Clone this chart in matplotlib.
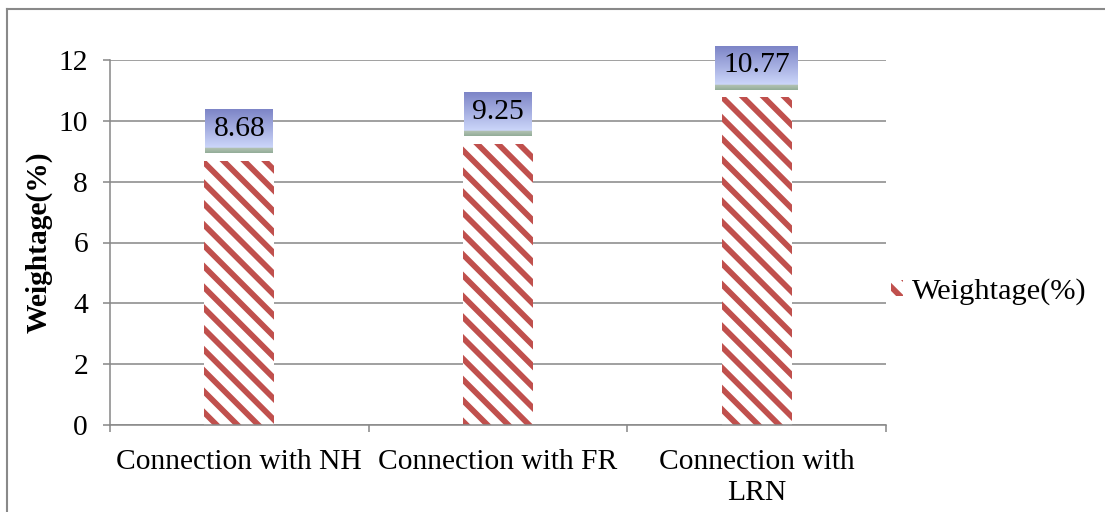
import matplotlib.pyplot as plt
import numpy as np
from matplotlib.lines import Line2D
from matplotlib.patches import Patch

categories = ["Connection with NH", "Connection with FR", "Connection with\nLRN"]
weightage = [8.68, 9.25, 10.77]
yticks = [0, 2, 4, 6, 8, 10, 12]

red = "#c0504d"
grey = "#898989"

plt.rcParams["font.family"] = ["Liberation Serif", "DejaVu Serif"]
plt.rcParams["hatch.linewidth"] = 3.3

W, H, DPI = 1105, 512, 125
fig = plt.figure(figsize=(W / DPI, H / DPI), dpi=DPI)
ax = fig.add_axes([110 / W, 1 - 425 / H, 776 / W, 365 / H])

x = np.arange(len(categories))
ax.bar(x, weightage, width=0.27, color="white", edgecolor=red, linewidth=0,
       hatch="\\\\", zorder=2)

ax.set_xlim(-0.5, len(categories) - 0.5)
ax.set_ylim(0, 12)
ax.set_yticks(yticks)
ax.set_xticks(x)
ax.set_xticklabels(categories, fontsize=17)
for lbl in ax.get_xticklabels():
    lbl.set_linespacing(1.25)
ax.set_xticks(np.arange(-0.5, len(categories)), minor=True)
ax.tick_params(axis="x", which="major", length=0, pad=14)
ax.tick_params(axis="x", which="minor", length=4, width=0.9, color=grey)
ax.tick_params(axis="y", length=4, width=0.9, color=grey, pad=8.6, labelsize=17)

ax.set_axisbelow(True)
ax.yaxis.grid(True, color=grey, linewidth=0.9)
for side in ["top", "right"]:
    ax.spines[side].set_visible(False)
for side in ["left", "bottom"]:
    ax.spines[side].set_color(grey)
    ax.spines[side].set_linewidth(0.9)

fig.text(39 / W, 1 - 242 / H, "Weightage(%)", rotation=90, ha="center",
         va="center", fontsize=17, fontweight="bold")

# value labels sitting in gradient boxes above each bar
n = 100
grad = np.zeros((n, 1, 3))
top_c = np.array([0.49, 0.52, 0.78])
mid_c = np.array([0.80, 0.84, 0.98])
g1 = np.array([0.70, 0.76, 0.70])
g2 = np.array([0.58, 0.68, 0.60])
split = 88
for r in range(n):
    if r < split:
        t = r / (split - 1)
        grad[r, 0] = top_c + (mid_c - top_c) * t
    else:
        t = (r - split) / (n - split - 1)
        grad[r, 0] = g1 + (g2 - g1) * t

texts = []
for xi, v in zip(x, weightage):
    t = ax.text(xi, v + 1.05, f"{v:.2f}", ha="center", va="center",
                fontsize=17, zorder=5, clip_on=False)
    texts.append((t, v))

fig.canvas.draw()
renderer = fig.canvas.get_renderer()
inv = ax.transData.inverted()
for t, v in texts:
    bb = t.get_window_extent(renderer)
    x0 = inv.transform((bb.x0 - 8, 0))[0]
    x1 = inv.transform((bb.x1 + 8, 0))[0]
    ax.imshow(grad, extent=(x0, x1, v + 0.26, v + 1.68), aspect="auto",
              zorder=4, clip_on=False, interpolation="bilinear")
ax.set_xlim(-0.5, len(categories) - 0.5)
ax.set_ylim(0, 12)

fig.legend(handles=[Patch(facecolor="white", edgecolor=red, linewidth=0, hatch="\\\\")],
           labels=["Weightage(%)"], loc="center left",
           bbox_to_anchor=(891 / W, 1 - 292 / H), frameon=False, fontsize=17.5,
           handlelength=0.4, handleheight=0.45, handletextpad=0.3,
           borderaxespad=0, borderpad=0)

# outer frame, left and top edges only
fig.add_artist(Line2D([6.5 / W, 6.5 / W], [0, 1 - 8.5 / H], transform=fig.transFigure,
                      color=grey, linewidth=1.2))
fig.add_artist(Line2D([6.5 / W, 1], [1 - 8.5 / H, 1 - 8.5 / H], transform=fig.transFigure,
                      color=grey, linewidth=1.2))

fig.savefig("out.png", dpi=DPI)
